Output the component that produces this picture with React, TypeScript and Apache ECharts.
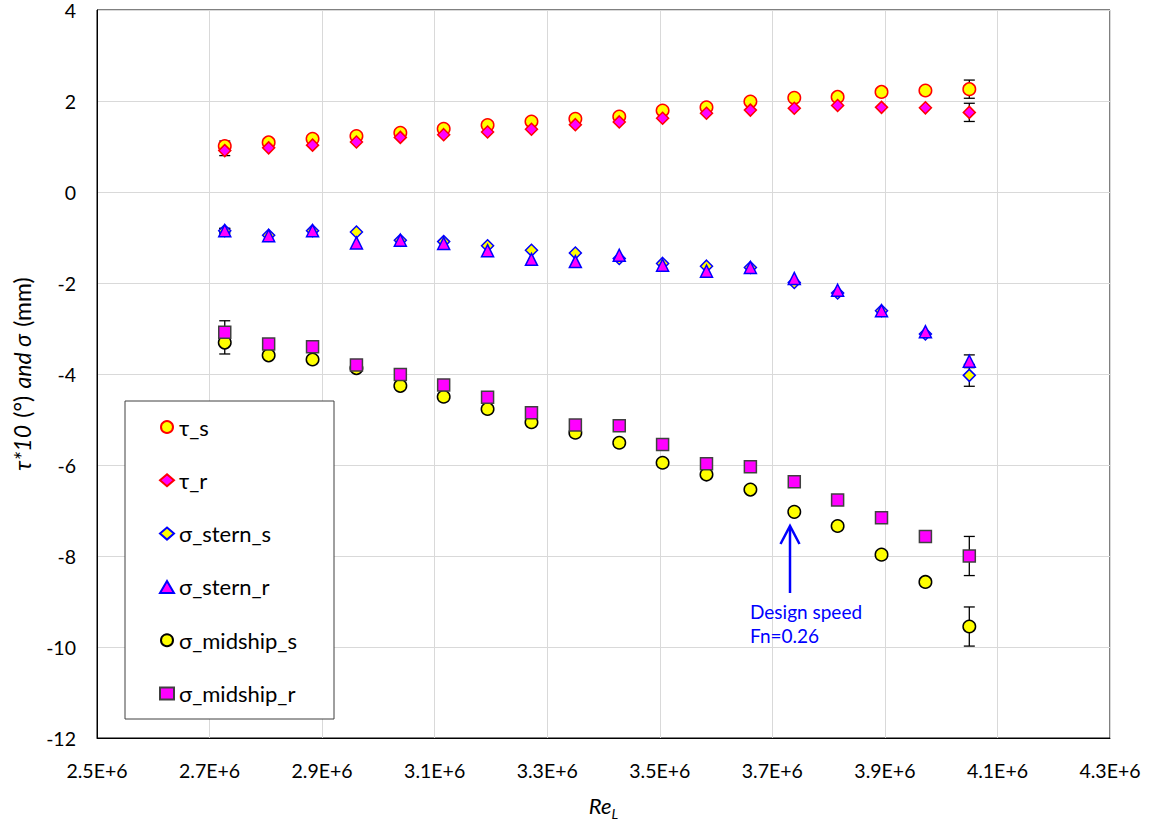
import React, { useEffect, useRef } from "react";
import * as echarts from "echarts";

const reynolds = [
  2727000, 2805000, 2883000, 2961000, 3039000, 3116000, 3194000, 3272000, 3350000,
  3428000, 3505000, 3583000, 3661000, 3739000, 3816000, 3894000, 3972000, 4050000,
];
const tauS = [1.01, 1.09, 1.17, 1.23, 1.3, 1.39, 1.47, 1.55, 1.61, 1.66, 1.79, 1.86, 1.99, 2.07, 2.09, 2.2, 2.23, 2.26];
const tauR = [0.91, 0.97, 1.03, 1.1, 1.2, 1.26, 1.32, 1.38, 1.48, 1.54, 1.62, 1.73, 1.8, 1.84, 1.9, 1.86, 1.85, 1.75];
const sternS = [-0.85, -0.95, -0.85, -0.88, -1.06, -1.09, -1.18, -1.28, -1.34, -1.46, -1.57, -1.63, -1.66, -1.99, -2.22, -2.61, -3.12, -4.03];
const sternR = [-0.85, -0.96, -0.85, -1.12, -1.06, -1.13, -1.29, -1.48, -1.53, -1.39, -1.61, -1.74, -1.66, -1.9, -2.16, -2.61, -3.07, -3.72];
const midS = [-3.31, -3.59, -3.68, -3.87, -4.26, -4.5, -4.77, -5.06, -5.29, -5.51, -5.95, -6.21, -6.54, -7.03, -7.34, -7.97, -8.57, -9.55];
const midR = [-3.08, -3.34, -3.4, -3.8, -4.01, -4.24, -4.51, -4.85, -5.12, -5.14, -5.55, -5.97, -6.04, -6.37, -6.77, -7.16, -7.57, -8.0];

// error bars exist at the first and last Reynolds number only
const errIndex = [0, 17];
const tauSErr = [0.11, 0.2];
const tauRErr = [0.11, 0.2];
const sternSErr = [0.05, 0.24];
const sternRErr = [0.05, 0.14];
const midSErr = [0.25, 0.43];
const midRErr = [0.25, 0.43];

const xTickMin = 2500000;
const xTickMax = 4300000;
const xTickStep = 200000;
const yMin = -12;
const yMax = 4;
const yStep = 2;

const FONT = 'Lato, "Open Sans", sans-serif';

type SeriesDef = {
  name: string;
  values: number[];
  errs: number[];
  symbol: string;
  size: number;
  fill: string;
  border: string;
};

const seriesDefs: SeriesDef[] = [
  { name: "τ_s", values: tauS, errs: tauSErr, symbol: "circle", size: 12.5, fill: "#FFFF00", border: "#FF0000" },
  { name: "τ_r", values: tauR, errs: tauRErr, symbol: "diamond", size: 12, fill: "#FF00FF", border: "#FF0000" },
  { name: "σ_stern_s", values: sternS, errs: sternSErr, symbol: "diamond", size: 12, fill: "#FFFF00", border: "#0000FF" },
  { name: "σ_stern_r", values: sternR, errs: sternRErr, symbol: "triangle", size: 12, fill: "#FF00FF", border: "#0000FF" },
  { name: "σ_midship_s", values: midS, errs: midSErr, symbol: "circle", size: 12.5, fill: "#FFFF00", border: "#000000" },
  { name: "σ_midship_r", values: midR, errs: midRErr, symbol: "rect", size: 12, fill: "#FF00FF", border: "#404040" },
];

export default function App() {
  const ref = useRef<HTMLDivElement>(null);

  useEffect(() => {
    if (!ref.current) return;
    const chart = echarts.init(ref.current, null, { renderer: "svg" });

    const errData: number[][] = [];
    seriesDefs.forEach((s) => {
      errIndex.forEach((idx, k) => {
        const v = s.values[idx];
        const e = s.errs[k];
        errData.push([reynolds[idx], v - e, v + e]);
      });
    });

    const scatterSeries = seriesDefs.map((s) => ({
      type: "scatter",
      name: s.name,
      data: reynolds.map((x, i) => [x, s.values[i]]),
      symbol: s.symbol,
      symbolSize: s.size,
      itemStyle: { color: s.fill, borderColor: s.border, borderWidth: 1.5, opacity: 1 },
      z: 3,
    }));

    const option: any = {
      animation: false,
      backgroundColor: "#ffffff",
      grid: {
        left: 97,
        right: 43,
        top: 10,
        bottom: 90,
        show: true,
        borderColor: "#000000",
        borderWidth: 1,
        backgroundColor: "transparent",
      },
      xAxis: {
        type: "value",
        min: xTickMin,
        max: xTickMax,
        interval: xTickStep,
        axisLine: { show: true, onZero: false, lineStyle: { color: "#000000", width: 1 } },
        axisTick: { show: false },
        splitLine: { show: true, lineStyle: { color: "#D9D9D9", width: 1 } },
        axisLabel: {
          margin: 22,
          fontFamily: FONT,
          fontSize: 19.5,
          color: "#000000",
          formatter: (v: number) => (v / 1e6).toFixed(1) + "E+6",
        },
        name: "{a|Re}{b|L}",
        nameLocation: "middle",
        nameGap: 56,
        nameTextStyle: {
          rich: {
            a: { fontFamily: FONT, fontStyle: "italic", fontSize: 22, lineHeight: 26, verticalAlign: "top", color: "#000" },
            b: { fontFamily: FONT, fontStyle: "italic", fontSize: 14, lineHeight: 10, verticalAlign: "bottom", color: "#000" },
          },
        },
      },
      yAxis: {
        type: "value",
        min: yMin,
        max: yMax,
        interval: yStep,
        axisLine: { show: true, onZero: false, lineStyle: { color: "#000000", width: 1 } },
        axisTick: { show: false },
        splitLine: { show: true, lineStyle: { color: "#D9D9D9", width: 1 } },
        axisLabel: { margin: 21, fontFamily: FONT, fontSize: 19.5, color: "#000000" },
        name: "{a|τ*10} {b|(°)} {a|and σ} {b|(mm)}",
        nameLocation: "middle",
        nameRotate: 90,
        nameGap: 64,
        nameTextStyle: {
          rich: {
            a: { fontFamily: FONT, fontStyle: "italic", fontSize: 23, color: "#000", padding: [0, 2] },
            b: { fontFamily: FONT, fontSize: 23, color: "#000", padding: [0, 2] },
          },
        },
      },
      legend: {
        orient: "vertical",
        left: 159,
        top: 416,
        padding: 0,
        itemGap: 31.3,
        itemWidth: 14,
        itemHeight: 12,
        data: seriesDefs.map((s) => s.name),
        textStyle: { fontFamily: FONT, fontSize: 22, lineHeight: 22, color: "#000" },
        z: 10,
      },
      graphic: [
        {
          type: "rect",
          shape: { x: 125, y: 401, width: 209, height: 318 },
          style: { fill: "#ffffff", stroke: "#404040", lineWidth: 1 },
          z: 8,
          silent: true,
        },
        {
          type: "line",
          shape: { x1: 790, y1: 593, x2: 790, y2: 527 },
          style: { stroke: "#0000FF", lineWidth: 2.5 },
          z: 8,
        },
        {
          type: "polyline",
          shape: { points: [[780.5, 544], [790, 526], [799.5, 544]] },
          style: { stroke: "#0000FF", lineWidth: 2.5, fill: null },
          z: 8,
        },
        {
          type: "text",
          x: 750,
          y: 600,
          style: {
            text: "Design speed\nFn=0.26",
            fill: "#0000FF",
            font: `19px ${FONT}`,
            lineHeight: 23.5,
            verticalAlign: "top",
          },
          z: 8,
        },
      ],
      series: [
        {
          type: "custom",
          name: "errors",
          data: errData,
          encode: { x: 0, y: [1, 2] },
          z: 2,
          silent: true,
          renderItem: (params: any, api: any) => {
            const x = api.value(0);
            const lo = api.coord([x, api.value(1)]);
            const hi = api.coord([x, api.value(2)]);
            const w = 5.5;
            const style = { stroke: "#000000", lineWidth: 1.3 };
            return {
              type: "group",
              children: [
                { type: "line", shape: { x1: lo[0], y1: lo[1], x2: hi[0], y2: hi[1] }, style },
                { type: "line", shape: { x1: lo[0] - w, y1: lo[1], x2: lo[0] + w, y2: lo[1] }, style },
                { type: "line", shape: { x1: hi[0] - w, y1: hi[1], x2: hi[0] + w, y2: hi[1] }, style },
              ],
            };
          },
        },
        ...scatterSeries,
      ],
    };

    chart.setOption(option);
    return () => chart.dispose();
  }, []);

  return (
    <div
      ref={ref}
      style={{ position: "fixed", left: 0, top: 0, width: 1153, height: 828, background: "#fff" }}
    />
  );
}
